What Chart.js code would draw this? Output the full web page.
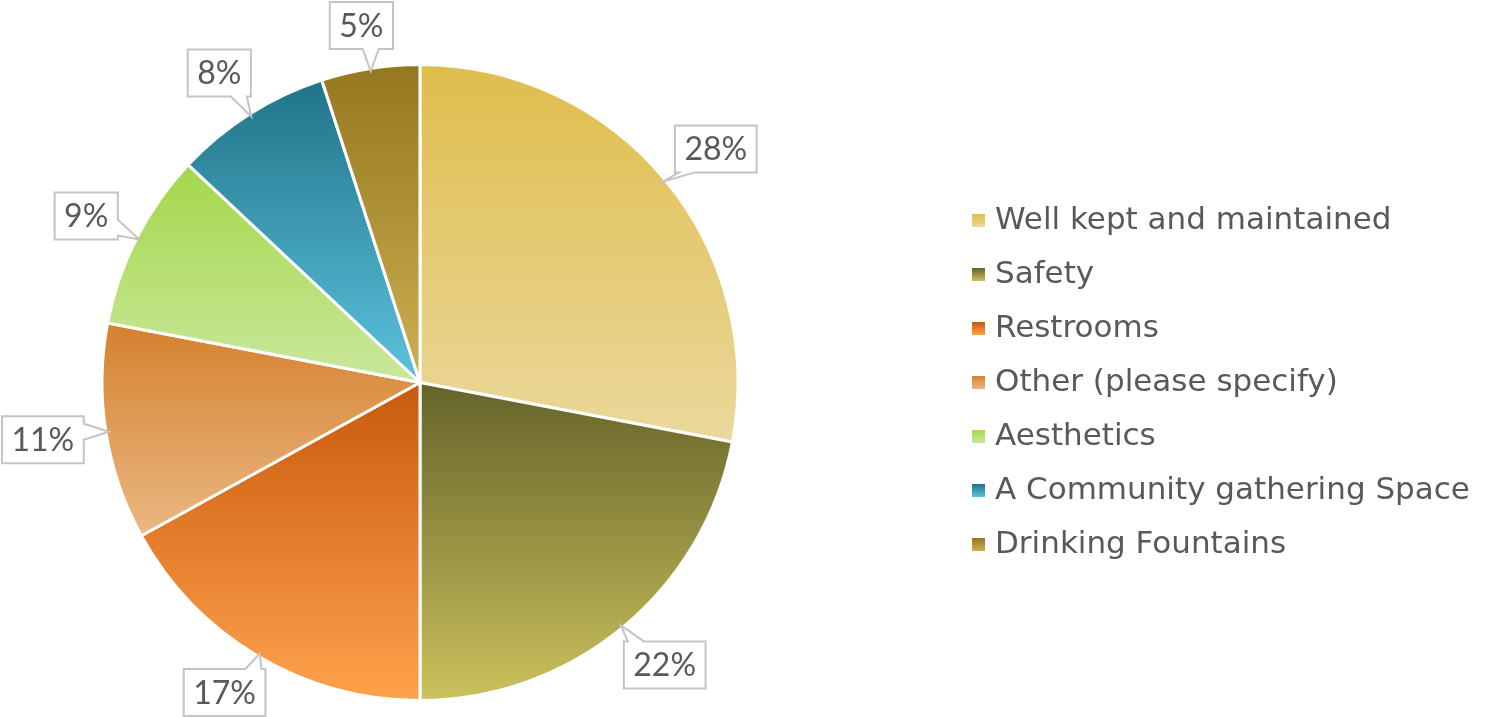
<!DOCTYPE html>
<html>
<head>
<meta charset="utf-8">
<script src="https://cdn.jsdelivr.net/npm/chart.js@4.4.1/dist/chart.umd.min.js"></script>
<style>
  html, body { margin: 0; padding: 0; background: #fff; }
  #wrap { width: 1493px; height: 717px; }
</style>
</head>
<body>
<div id="wrap"><canvas id="pie"></canvas></div>
<script>
  const labels = [
    "Well kept and maintained",
    "Safety",
    "Restrooms",
    "Other (please specify)",
    "Aesthetics",
    "A Community gathering Space",
    "Drinking Fountains",
  ];
  const shares = [28, 22, 17, 11, 9, 8, 5];
  const pctLabels = ["28%", "22%", "17%", "11%", "9%", "8%", "5%"];

  // each slice shades from a darker top to a lighter bottom
  const topColors = ["#dfbd4c", "#65632a", "#c8590c", "#d5812e", "#a4d84a", "#207488", "#947720"];
  const bottomColors = ["#ebd89c", "#cbc15c", "#ffa24c", "#eab882", "#cae79d", "#5cc2de", "#cdb050"];

  const textColor = "#595959";
  const labelFont = "32px Lato, 'DejaVu Sans', sans-serif";
  const legendFont = "31px 'DejaVu Sans', sans-serif";

  // vertical extent of slice i, worked out from the chart area
  function sliceSpan(chart, i) {
    const a = chart.chartArea;
    const cx = (a.left + a.right) / 2;
    const cy = (a.top + a.bottom) / 2;
    const r = (Math.min(a.right - a.left, a.bottom - a.top) - 3) / 2;
    const total = shares.reduce((s, v) => s + v, 0);
    let start = -Math.PI / 2;
    for (let k = 0; k < i; k++) start += (shares[k] / total) * Math.PI * 2;
    const end = start + (shares[i] / total) * Math.PI * 2;
    const ys = [cy, cy + r * Math.sin(start), cy + r * Math.sin(end)];
    [-Math.PI / 2, Math.PI / 2, (3 * Math.PI) / 2].forEach(function (q) {
      if (q >= start && q <= end) ys.push(cy + r * Math.sin(q));
    });
    return [Math.min.apply(null, ys), Math.max.apply(null, ys)];
  }

  function sliceFill(c) {
    const i = c.dataIndex;
    const chart = c.chart;
    if (i === undefined || !chart.chartArea) return topColors[0];
    const span = sliceSpan(chart, i);
    const g = chart.ctx.createLinearGradient(0, span[0], 0, span[1]);
    g.addColorStop(0, topColors[i]);
    g.addColorStop(1, bottomColors[i]);
    return g;
  }

  function calloutPath(ctx, L, T, R, B, side, b1, b2, tip) {
    ctx.beginPath();
    ctx.moveTo(L, T);
    if (side === "top") { ctx.lineTo(b1, T); ctx.lineTo(tip.x, tip.y); ctx.lineTo(b2, T); }
    ctx.lineTo(R, T);
    if (side === "right") { ctx.lineTo(R, b1); ctx.lineTo(tip.x, tip.y); ctx.lineTo(R, b2); }
    ctx.lineTo(R, B);
    if (side === "bottom") { ctx.lineTo(b2, B); ctx.lineTo(tip.x, tip.y); ctx.lineTo(b1, B); }
    ctx.lineTo(L, B);
    if (side === "left") { ctx.lineTo(L, b2); ctx.lineTo(tip.x, tip.y); ctx.lineTo(L, b1); }
    ctx.closePath();
  }

  const callouts = {
    id: "callouts",
    afterDatasetsDraw(chart) {
      const ctx = chart.ctx;
      const meta = chart.getDatasetMeta(0);
      ctx.save();
      ctx.font = labelFont;
      ctx.textAlign = "center";
      ctx.textBaseline = "middle";
      meta.data.forEach(function (arc, i) {
        const p = arc.getProps(["x", "y", "startAngle", "endAngle", "outerRadius"], true);
        const mid = (p.startAngle + p.endAngle) / 2;
        const cos = Math.cos(mid), sin = Math.sin(mid);
        const tip = { x: p.x + cos * (p.outerRadius - 3), y: p.y + sin * (p.outerRadius - 3) };
        const w = ctx.measureText(pctLabels[i]).width + 19;
        const h = 47;
        // push the box outward so it sits clear of the pie
        let bx = p.x + cos * (p.outerRadius + 25) + (cos * w) / 2;
        let by = p.y + sin * (p.outerRadius + 25) + (sin * h) / 2;
        bx = Math.max(w / 2 + 2, Math.min(chart.width - w / 2 - 2, bx));
        by = Math.max(h / 2 + 2, Math.min(chart.height - h / 2 - 1, by));
        const L = bx - w / 2, R = bx + w / 2, T = by - h / 2, B = by + h / 2;
        const dx = tip.x - bx, dy = tip.y - by;
        let side, c;
        if (Math.abs(dx) / (w / 2) > Math.abs(dy) / (h / 2)) {
          side = dx < 0 ? "left" : "right";
          c = Math.max(T + 12, Math.min(B - 12, tip.y));
        } else {
          side = dy < 0 ? "top" : "bottom";
          c = Math.max(L + 12, Math.min(R - 12, tip.x));
        }
        calloutPath(ctx, L, T, R, B, side, c - 8, c + 8, tip);
        ctx.fillStyle = "#ffffff";
        ctx.fill();
        ctx.lineWidth = 2;
        ctx.strokeStyle = "#c4c4c4";
        ctx.stroke();
        ctx.fillStyle = textColor;
        ctx.fillText(pctLabels[i], bx, by + 1);
      });
      ctx.restore();
    },
  };

  const sideLegend = {
    id: "sideLegend",
    afterDraw(chart) {
      const ctx = chart.ctx;
      ctx.save();
      ctx.font = legendFont;
      ctx.textBaseline = "middle";
      labels.forEach(function (name, i) {
        const y = 220 + i * 54;
        const g = ctx.createLinearGradient(0, y - 6, 0, y + 7);
        g.addColorStop(0, topColors[i]);
        g.addColorStop(1, bottomColors[i]);
        ctx.fillStyle = g;
        ctx.fillRect(972, y - 6, 13, 13);
        ctx.fillStyle = textColor;
        ctx.fillText(name, 995, y + 1);
      });
      ctx.restore();
    },
  };

  new Chart(document.getElementById("pie"), {
    type: "pie",
    data: {
      labels: labels,
      datasets: [
        {
          data: shares,
          backgroundColor: sliceFill,
          borderColor: "#ffffff",
          borderWidth: 3,
        },
      ],
    },
    options: {
      responsive: true,
      maintainAspectRatio: false,
      animation: false,
      events: [],
      layout: { padding: { left: 100, right: 753, top: 63, bottom: 15 } },
      plugins: {
        legend: { display: false },
        tooltip: { enabled: false },
      },
    },
    plugins: [callouts, sideLegend],
  });
</script>
</body>
</html>
